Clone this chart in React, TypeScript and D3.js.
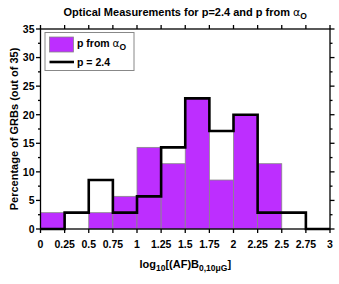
import React from "react";
import * as d3 from "d3";

const binStarts = [0, 0.25, 0.5, 0.75, 1, 1.25, 1.5, 1.75, 2, 2.25, 2.5, 2.75];
const binWidth = 0.25;
const pFromAlpha = [2.857, 0, 2.857, 5.714, 14.286, 11.429, 22.857, 8.571, 20.0, 11.429, 0, 0];
const p24 = [0, 2.857, 8.571, 2.857, 5.714, 14.286, 22.857, 17.143, 20.0, 2.857, 2.857, 0];
const xTicks = [0, 0.25, 0.5, 0.75, 1, 1.25, 1.5, 1.75, 2, 2.25, 2.5, 2.75, 3];
const xTickLabels = ["0", "0.25", "0.5", "0.75", "1", "1.25", "1.5", "1.75", "2", "2.25", "2.5", "2.75", "3"];
const yMajor = [0, 5, 10, 15, 20, 25, 30, 35];
const yMinor = [2.5, 7.5, 12.5, 17.5, 22.5, 27.5, 32.5];

const W = 339, H = 284;
const L = 40.5, R = 330, T = 29, B = 229;
const PURPLE = "#BD2EFF";
const FONT = "'Liberation Sans', Arial, Helvetica, sans-serif";

export default function App() {
  const x = d3.scaleLinear().domain([0, 3]).range([L, R]);
  const y = d3.scaleLinear().domain([0, 35]).range([B, T]);

  const pts: [number, number][] = [];
  p24.forEach((v, i) => {
    pts.push([binStarts[i], v]);
    pts.push([binStarts[i] + binWidth, v]);
  });
  const line = d3.line<[number, number]>().x(d => x(d[0])).y(d => y(d[1]));

  return (
    <svg width={W} height={H} style={{ position: "absolute", left: 0, top: 0, background: "#fff" }}
      fontFamily={FONT} fontWeight="bold">
      <rect x={0} y={0} width={W} height={H} fill="#fff" />
      {pFromAlpha.map((v, i) => (
        <rect key={i} x={x(binStarts[i])} y={y(v)} width={x(binStarts[i] + binWidth) - x(binStarts[i])}
          height={y(0) - y(v)} fill={PURPLE} stroke="#888" strokeWidth={0.8} />
      ))}
      <path d={line(pts) || ""} fill="none" stroke="#000" strokeWidth={2.6} strokeLinejoin="miter" />
      <rect x={L} y={T} width={R - L} height={B - T} fill="none" stroke="#000" strokeWidth={1.3} />
      {xTicks.map((t, i) => (
        <g key={"xt" + i}>
          <line x1={x(t)} x2={x(t)} y1={B} y2={B + 4} stroke="#000" strokeWidth={1.3} />
          <line x1={x(t)} x2={x(t)} y1={T} y2={T - 4} stroke="#000" strokeWidth={1.3} />
          <text x={x(t)} y={B + 18.5} fontSize={10.5} textAnchor="middle">{xTickLabels[i]}</text>
        </g>
      ))}
      {yMajor.map((t, i) => (
        <g key={"ym" + i}>
          <line x1={L} x2={L - 4.5} y1={y(t)} y2={y(t)} stroke="#000" strokeWidth={1.3} />
          <line x1={R} x2={R + 4.5} y1={y(t)} y2={y(t)} stroke="#000" strokeWidth={1.3} />
          <text x={L - 6} y={y(t) + 3.8} fontSize={10.5} textAnchor="end">{t}</text>
        </g>
      ))}
      {yMinor.map((t, i) => (
        <g key={"yn" + i}>
          <line x1={L} x2={L - 2.5} y1={y(t)} y2={y(t)} stroke="#000" strokeWidth={1.3} />
          <line x1={R} x2={R + 2.5} y1={y(t)} y2={y(t)} stroke="#000" strokeWidth={1.3} />
        </g>
      ))}
      <text x={(L + R) / 2} y={16} fontSize={11} textAnchor="middle">
        Optical Measurements for p=2.4 and p from <tspan fontFamily="'DejaVu Sans', sans-serif" fontWeight="normal">α</tspan>
        <tspan fontSize={8.5} dy={3}>O</tspan>
      </text>
      <text transform={`translate(18,${(T + B) / 2}) rotate(-90)`} fontSize={11} textAnchor="middle">
        Percentage of GRBs (out of 35)
      </text>
      <text x={(L + R) / 2} y={268} fontSize={11} textAnchor="middle">
        log<tspan fontSize={8.5} dy={3}>10</tspan><tspan dy={-3}>[(AF)B</tspan><tspan fontSize={8.5} dy={3}>0,10μG</tspan><tspan dy={-3}>]</tspan>
      </text>
      <rect x={45} y={32.5} width={89} height={38} fill="#fff" stroke="#888" strokeWidth={1} />
      <rect x={49.5} y={37} width={24} height={15} fill={PURPLE} stroke="#888" strokeWidth={0.8} />
      <text x={77} y={47} fontSize={10.5}>
        p from <tspan fontFamily="'DejaVu Sans', sans-serif" fontWeight="normal">α</tspan><tspan fontSize={8.5} dy={3}>O</tspan>
      </text>
      <line x1={49.5} x2={74} y1={62} y2={62} stroke="#000" strokeWidth={2.6} />
      <text x={77} y={66} fontSize={10.5}>p = 2.4</text>
    </svg>
  );
}
